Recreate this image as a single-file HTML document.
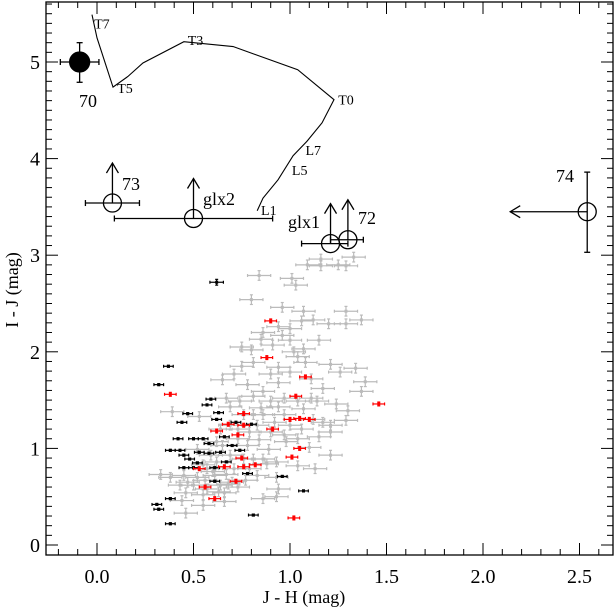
<!DOCTYPE html>
<html><head><meta charset="utf-8"><style>
html,body{margin:0;padding:0;background:#fff;}
svg{display:block;font-family:"Liberation Serif",serif;}
</style></head><body>
<svg id="chart" width="615" height="608" viewBox="0 0 615 608" xmlns="http://www.w3.org/2000/svg"></svg>
<script>
const xTicks=[0.0,0.5,1.0,1.5,2.0,2.5];
const xTickLabels=["0.0","0.5","1.0","1.5","2.0","2.5"];
const yTicks=[0,1,2,3,4,5];
const yTickLabels=["0","1","2","3","4","5"];
const grayX=[1.09,1.16,1.25,1.33,1.29,1.16,0.84,1.01,1.03,0.80,0.96,1.07,1.29,1.37,1.12,1.06,1.20,1.29,0.94,1.00,0.86,0.85,0.96,1.0,1.15,0.91,1.07,0.75,0.80,1.02,1.04,1.21,1.34,1.08,0.81,0.75,0.94,1.26,1.0,0.90,0.71,1.11,1.39,0.65,0.78,0.94,1.17,1.37,0.86,0.67,0.81,1.14,1.24,0.94,0.85,1.07,1.30,0.53,0.39,0.81,0.92,1.17,1.29,1.06,0.79,0.97,1.15,1.21,0.84,0.98,0.65,0.78,0.89,1.10,1.21,0.81,0.93,1.04,1.13,0.33,0.38,0.45,0.52,0.61,0.67,0.83,0.93,0.43,0.50,0.57,0.64,0.73,0.46,0.55,0.66,0.94,0.86,0.93,0.44,0.55,0.66,0.46,0.69,0.74,0.90,0.97,1.04,1.11,0.86,0.97,1.12,0.69,0.83,0.90,1.04,0.73,0.62,0.69,0.76,0.86,0.62,0.55,0.71,0.79,0.59,0.52,0.73,0.76,0.64,1.0,1.21,0.57,0.47,0.60,0.70,0.63,0.56,0.68,0.77,0.88];
const grayY=[2.90,2.96,2.90,2.98,2.89,2.89,2.79,2.76,2.69,2.54,2.46,2.42,2.42,2.33,2.33,2.32,2.29,2.29,2.26,2.24,2.20,2.13,2.17,2.12,2.12,2.07,2.03,2.05,2.02,2.00,1.95,1.87,1.83,1.89,1.89,1.85,1.84,1.79,1.79,1.77,1.77,1.72,1.69,1.71,1.66,1.68,1.62,1.59,1.59,1.52,1.54,1.49,1.46,1.43,1.42,1.41,1.39,1.33,1.38,1.35,1.27,1.27,1.29,1.20,1.17,1.14,1.12,1.17,1.09,1.07,1.03,1.03,0.99,1.01,0.93,0.89,0.86,0.82,0.79,0.73,0.70,0.72,0.70,0.72,0.73,0.72,0.70,0.62,0.62,0.58,0.62,0.60,0.54,0.52,0.54,0.58,0.48,0.50,0.46,0.41,0.45,0.33,1.43,1.49,1.49,1.52,1.49,1.52,1.35,1.35,1.30,1.24,1.24,1.17,1.10,1.10,1.07,0.93,0.89,0.89,0.86,0.83,0.79,0.79,0.93,0.99,1.20,1.35,1.20,1.24,1.24,0.79,0.65,0.76,0.65,0.55,0.67,0.63,0.67,0.84];
const blackX=[0.62,0.37,0.32,0.59,0.57,0.63,0.47,0.44,0.72,0.80,0.62,0.66,0.42,0.50,0.55,0.58,0.70,0.38,0.43,0.53,0.58,0.64,0.74,0.45,0.48,0.52,0.45,0.50,0.61,0.67,0.78,0.61,0.96,1.07,0.38,0.31,0.32,0.81,0.38];
const blackY=[2.72,1.85,1.66,1.51,1.45,1.37,1.36,1.27,1.27,1.25,1.30,1.12,1.10,1.10,1.10,1.05,1.03,0.98,0.98,0.96,0.95,0.96,0.98,0.93,0.89,0.85,0.80,0.80,0.80,0.86,0.74,0.66,0.71,0.56,0.48,0.42,0.37,0.31,0.22];
const redX=[0.90,0.88,1.08,0.38,1.03,1.46,0.76,1.00,1.05,1.10,0.68,0.76,0.62,0.73,0.91,1.05,1.01,0.75,0.66,0.76,0.82,0.53,0.72,0.56,0.61,1.02];
const redY=[2.32,1.94,1.74,1.56,1.54,1.46,1.36,1.30,1.31,1.30,1.25,1.24,1.18,1.14,1.20,1.00,0.91,0.90,0.81,0.81,0.83,0.79,0.66,0.60,0.48,0.28];
const trackX=[-0.026,0,0.083,0.16,0.238,0.45,0.705,1.04,1.228,1.166,1.088,1.016,0.938,0.86,0.83];
const trackY=[5.49,5.25,4.74,4.85,4.99,5.21,5.16,4.92,4.61,4.37,4.18,4.03,3.78,3.59,3.46];
const spTypes=["T7","T5","T3","T0","L7","L5","L1"];
const spTypeX=[-0.015,0.105,0.47,1.25,1.08,1.01,0.85];
const spTypeY=[5.40,4.73,5.23,4.61,4.09,3.88,3.47];

const L=46,R=613,T=2,B=555;
const sx=v=>97+193*v, sy=v=>545-96.6*v;
const svg=document.getElementById('chart');
const NS='http://www.w3.org/2000/svg';
function mk(tag,attrs,parent){const e=document.createElementNS(NS,tag);for(const k in attrs)e.setAttribute(k,attrs[k]);(parent||svg).appendChild(e);return e;}

const frame=mk('rect',{x:L,y:T,width:R-L,height:B-T,fill:'none',stroke:'#000','stroke-width':1.3});


for(let i=-3;i<=26;i++){const v=i/10;const x=sx(v);if(x<L||x>R)continue;const major=i%5===0;const len=major?12:6;
 mk('line',{x1:x,y1:B,x2:x,y2:B-len,stroke:'#000','stroke-width':1});
 mk('line',{x1:x,y1:T,x2:x,y2:T+len,stroke:'#000','stroke-width':1});}
for(let i=0;i<=57;i++){const v=i/10;const y=sy(v);if(y<T||y>B)continue;const major=i%10===0;const len=major?12:6;
 mk('line',{x1:L,y1:y,x2:L+len,y2:y,stroke:'#000','stroke-width':1});
 mk('line',{x1:R,y1:y,x2:R-len,y2:y,stroke:'#000','stroke-width':1});}
xTicks.forEach((v,i)=>{const t=mk('text',{x:sx(v),y:583,'font-size':20,'text-anchor':'middle'});t.textContent=xTickLabels[i];
 
 });
yTicks.forEach((v,i)=>{const t=mk('text',{x:40,y:sy(v)+7,'font-size':20,'text-anchor':'end'});t.textContent=yTickLabels[i];
 
 });
const xt=mk('text',{x:304,y:603,'font-size':18,'text-anchor':'middle'});xt.textContent='J - H (mag)';


const yt=mk('text',{x:0,y:0,'font-size':18,'text-anchor':'middle',transform:'translate(18,290) rotate(-90)'});yt.textContent='I - J (mag)';



function point(x,y,xe,ye,color,name){const g=mk('g',{stroke:color,fill:color,'stroke-width':1.2});
 
 
 const X=sx(x),Y=sy(y),x1=sx(x-xe),x2=sx(x+xe),y1=sy(y-ye),y2=sy(y+ye);
 mk('line',{x1:x1,y1:Y,x2:x2,y2:Y},g);mk('line',{x1:x1,y1:Y-1.5,x2:x1,y2:Y+1.5},g);mk('line',{x1:x2,y1:Y-1.5,x2:x2,y2:Y+1.5},g);
 mk('line',{x1:X,y1:y1,x2:X,y2:y2},g);mk('line',{x1:X-1.5,y1:y1,x2:X+1.5,y2:y1},g);mk('line',{x1:X-1.5,y1:y2,x2:X+1.5,y2:y2},g);
 mk('rect',{x:X-1.5,y:Y-1.5,width:3,height:3,stroke:'none'},g);}
grayX.forEach((v,i)=>point(v,grayY[i],0.06,0.05,'#bbbbbb','gray-point'));
blackX.forEach((v,i)=>point(v,blackY[i],i===0?0.035:0.025,i===0?0.03:0.01,'#000','black-point'));
redX.forEach((v,i)=>point(v,redY[i],0.03,0.02,'#ff0000','red-point'));

const tr=mk('polyline',{points:trackX.map((v,i)=>sx(v)+','+sy(trackY[i])).join(' '),fill:'none',stroke:'#000','stroke-width':1.1});


spTypes.forEach((s,i)=>{const t=mk('text',{x:sx(spTypeX[i]),y:sy(spTypeY[i])+5,'font-size':14});t.textContent=s;
 
 });

function special(name,x,y,xl,xr,yl,yh,filled,arrow,label,lx,ly){const g=mk('g',{stroke:'#000','stroke-width':1.3,fill:'none'});
 
 
 const X=sx(x),Y=sy(y);
 if(xr>xl){mk('line',{x1:sx(xl),y1:Y,x2:sx(xr),y2:Y},g);mk('line',{x1:sx(xl),y1:Y-3,x2:sx(xl),y2:Y+3},g);mk('line',{x1:sx(xr),y1:Y-3,x2:sx(xr),y2:Y+3},g);}
 if(yh>yl){mk('line',{x1:X,y1:sy(yl),x2:X,y2:sy(yh)},g);mk('line',{x1:X-3,y1:sy(yl),x2:X+3,y2:sy(yl)},g);mk('line',{x1:X-3,y1:sy(yh),x2:X+3,y2:sy(yh)},g);}
 if(arrow==='up'){const top=Y-40;mk('line',{x1:X,y1:Y,x2:X,y2:top},g);mk('polyline',{points:(X-6)+','+(top+10)+' '+X+','+top+' '+(X+6)+','+(top+10)},g);}
 if(arrow==='left'){const lft=X-77;mk('line',{x1:X,y1:Y,x2:lft,y2:Y},g);mk('polyline',{points:(lft+10)+','+(Y-6)+' '+lft+','+Y+' '+(lft+10)+','+(Y+6)},g);}
 mk('circle',{cx:X,cy:Y,r:filled?10:9,fill:filled?'#000':'none'},g);
 const t=mk('text',{x:lx,y:ly,'font-size':18,fill:'#000',stroke:'none'});t.textContent=label;}
special('object-70',-0.09,5.0,-0.19,0.01,4.79,5.2,true,'','70',79,107);
special('object-73',0.08,3.54,-0.06,0.22,0,0,false,'up','73',122,190);
special('object-glx2',0.5,3.38,0.09,0.91,0,0,false,'up','glx2',203,205);
special('object-glx1',1.21,3.12,1.06,1.30,0,0,false,'up','glx1',288,228);
special('object-72',1.30,3.16,1.21,1.38,0,0,false,'up','72',358,224);
special('object-74',2.54,3.45,0,0,3.03,3.86,false,'left','74',556,182);
</script>
</body></html>
